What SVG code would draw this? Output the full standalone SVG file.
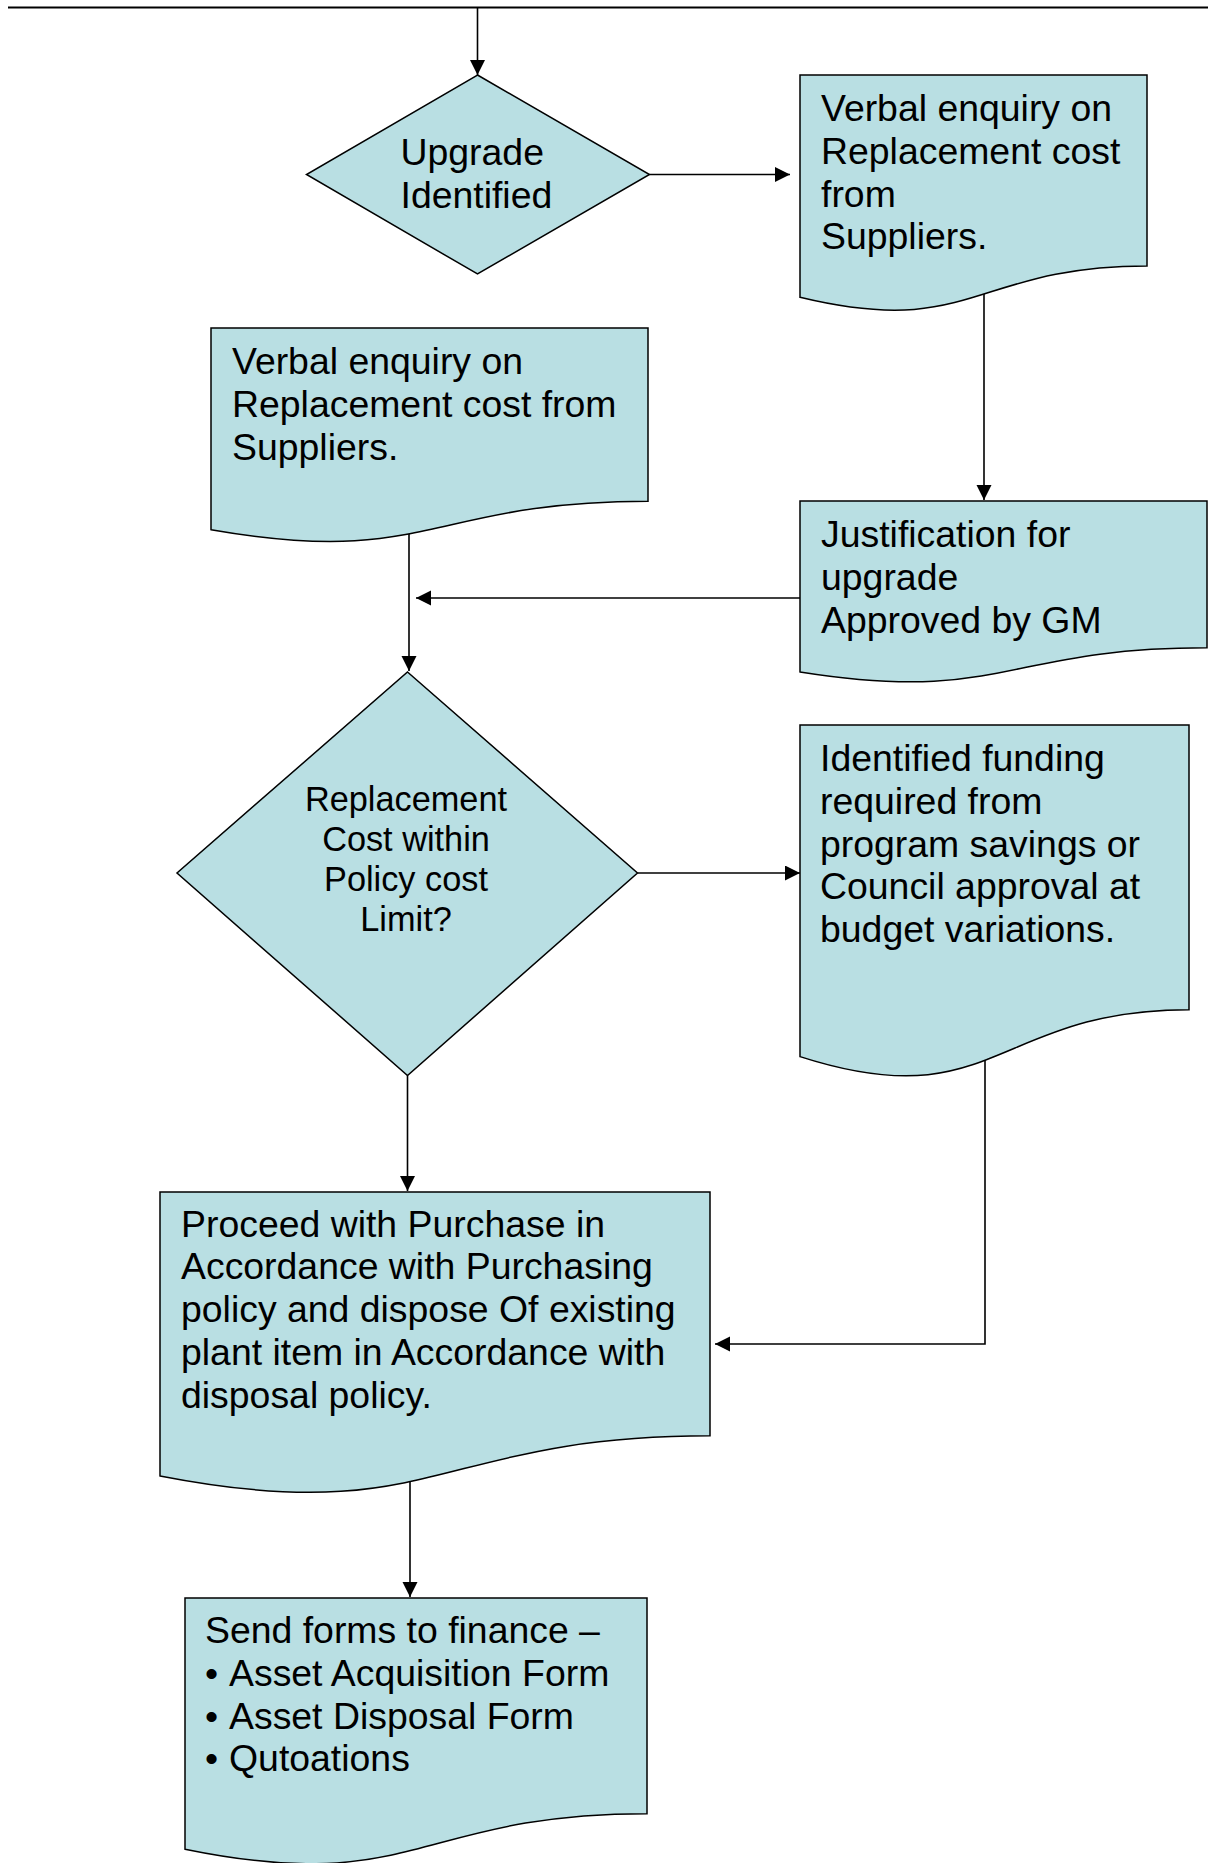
<svg xmlns="http://www.w3.org/2000/svg" width="1208" height="1863" viewBox="0 0 1208 1863">
<style>
.shape{fill:#B9DFE3;stroke:#000;stroke-width:1.5;stroke-linejoin:miter}
.conn{fill:none;stroke:#000;stroke-width:1.6}
.t{font-family:"Liberation Sans",Arial,sans-serif;font-size:37.4px;fill:#000}
.t34{font-family:"Liberation Sans",Arial,sans-serif;font-size:34.3px;fill:#000;text-anchor:middle}
</style>
<defs>
<marker id="arr" markerUnits="userSpaceOnUse" markerWidth="16" markerHeight="16" refX="15" refY="7.5" orient="auto">
<path d="M0,0 L15,7.5 L0,15 Z" fill="#000"/>
</marker>
</defs>
<rect width="1208" height="1863" fill="#fff"/>
<line x1="8" y1="7.5" x2="1208" y2="7.5" stroke="#000" stroke-width="2"/>
<g id="connectors">
<path class="conn" d="M477.5,8 V75" marker-end="url(#arr)"/>
<path class="conn" d="M649.5,174.5 H790" marker-end="url(#arr)"/>
<path class="conn" d="M984,290 V500" marker-end="url(#arr)"/>
<path class="conn" d="M800,598 H416" marker-end="url(#arr)"/>
<path class="conn" d="M409,530 V671" marker-end="url(#arr)"/>
<path class="conn" d="M637.5,873 H800" marker-end="url(#arr)"/>
<path class="conn" d="M407.5,1075.5 V1191" marker-end="url(#arr)"/>
<path class="conn" d="M985,1060 V1344 H715" marker-end="url(#arr)"/>
<path class="conn" d="M410,1480 V1597" marker-end="url(#arr)"/>
</g>
<g id="upgrade-identified">
<polygon class="shape" points="477.5,75 649.5,174.5 477.5,274 306.5,174.5"/>
<text class="t" x="400.5" y="165">Upgrade</text>
<text class="t" x="400.5" y="208">Identified</text>
</g>
<g id="verbal-enquiry-right">
<path class="shape" d="M800,75 H1147 V265.9 C973.5,265.9 973.5,339.2 800,297.3 Z"/>
<text class="t" x="821" y="121">Verbal enquiry on</text>
<text class="t" x="821" y="163.8">Replacement cost</text>
<text class="t" x="821" y="206.6">from</text>
<text class="t" x="821" y="249.4">Suppliers.</text>
</g>
<g id="verbal-enquiry-left">
<path class="shape" d="M211,328 H648 V501.2 C429.5,501.2 429.5,567.8 211,529.7 Z"/>
<text class="t" x="232" y="374">Verbal enquiry on</text>
<text class="t" x="232" y="416.8">Replacement cost from</text>
<text class="t" x="232" y="459.6">Suppliers.</text>
</g>
<g id="justification">
<path class="shape" d="M800,501 H1207 V647.8 C1003.5,647.8 1003.5,704.1 800,671.9 Z"/>
<text class="t" x="821" y="547">Justification for</text>
<text class="t" x="821" y="589.8">upgrade</text>
<text class="t" x="821" y="632.6">Approved by GM</text>
</g>
<g id="replacement-cost-decision">
<polygon class="shape" points="407.5,672 637.5,873 407.5,1075.5 177,873"/>
<text class="t34" x="406" y="810.5">Replacement</text>
<text class="t34" x="406" y="850.5">Cost within</text>
<text class="t34" x="406" y="890.5">Policy cost</text>
<text class="t34" x="406" y="930.5">Limit?</text>
</g>
<g id="identified-funding">
<path class="shape" d="M800,725 H1189 V1009.7 C994.5,1009.7 994.5,1119.1 800,1056.6 Z"/>
<text class="t" x="820" y="771">Identified funding</text>
<text class="t" x="820" y="813.8">required from</text>
<text class="t" x="820" y="856.6">program savings or</text>
<text class="t" x="820" y="899.4">Council approval at</text>
<text class="t" x="820" y="942.2">budget variations.</text>
</g>
<g id="proceed-with-purchase">
<path class="shape" d="M160,1192 H710 V1435.8 C435,1435.8 435,1529.4 160,1475.9 Z"/>
<text class="t" x="181" y="1236.5">Proceed with Purchase in</text>
<text class="t" x="181" y="1279.3">Accordance with Purchasing</text>
<text class="t" x="181" y="1322.1">policy and dispose Of existing</text>
<text class="t" x="181" y="1364.9">plant item in Accordance with</text>
<text class="t" x="181" y="1407.7">disposal policy.</text>
</g>
<g id="send-forms">
<path class="shape" d="M185,1598 H647 V1813.7 C416,1813.7 416,1896.6 185,1849.2 Z"/>
<text class="t" x="205" y="1643">Send forms to finance –</text>
<text class="t" x="205" y="1685.8">•</text>
<text class="t" x="229" y="1685.8">Asset Acquisition Form</text>
<text class="t" x="205" y="1728.6">•</text>
<text class="t" x="229" y="1728.6">Asset Disposal Form</text>
<text class="t" x="205" y="1771.4">•</text>
<text class="t" x="229" y="1771.4">Qutoations</text>
</g>
</svg>
